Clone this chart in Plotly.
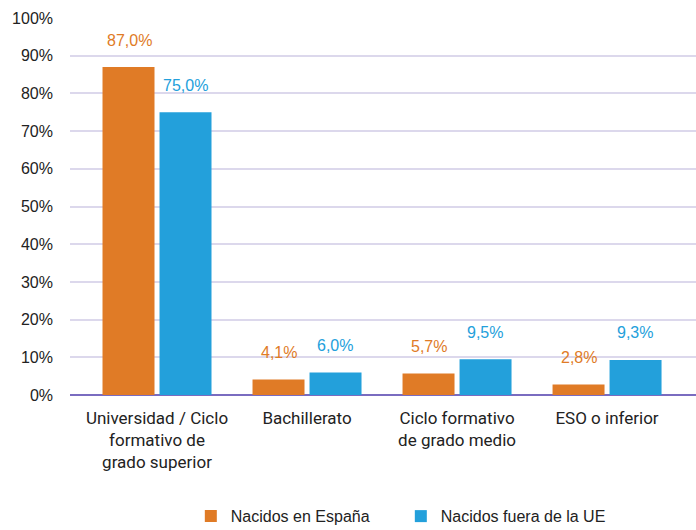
import plotly.graph_objects as go

categories = ["Universidad / Ciclo<br>formativo de<br>grado superior", "Bachillerato",
              "Ciclo formativo<br>de grado medio", "ESO o inferior"]
espana = [87.0, 4.1, 5.7, 2.8]
fuera_ue = [75.0, 6.0, 9.5, 9.3]
series_names = ["Nacidos en España", "Nacidos fuera de la UE"]
colors = ["#e07b26", "#23a0db"]
y_ticks = [0, 10, 20, 30, 40, 50, 60, 70, 80, 90, 100]

def fmt(v):
    return f"{v:.1f}".replace(".", ",") + "%"

fig = go.Figure()
for name, vals, col in zip(series_names, [espana, fuera_ue], colors):
    fig.add_trace(go.Bar(x=categories, y=vals, name=name, marker_color=col,
                         marker_line_width=0))

annotations = []
for vals, col, xs in [(espana, colors[0], -28), (fuera_ue, colors[1], 28)]:
    for c, v in zip(categories, vals):
        annotations.append(dict(x=c, y=v, text=fmt(v), showarrow=False,
                                xshift=xs, yshift=27,
                                font=dict(family="Liberation Sans", size=16, color=col)))

fig.update_layout(
    width=696, height=530,
    margin=dict(l=70, r=0, t=18, b=135),
    plot_bgcolor="white", paper_bgcolor="white",
    barmode="group", bargap=0.24, bargroupgap=0.088,
    font=dict(family="Liberation Sans", size=16, color="#222222"),
    annotations=annotations,
    showlegend=True,
    legend=dict(orientation="h", x=0.193, xanchor="left",
                yref="container", y=0.026, yanchor="middle",
                font=dict(family="Liberation Sans", size=16, color="#222222"),
                traceorder="normal", entrywidth=165, entrywidthmode="pixels"),
    xaxis=dict(range=[-0.58, 3.593], showgrid=False, showline=False, ticks="",
               automargin=False, ticklabelstandoff=11,
               tickfont=dict(family="Roboto", size=17, color="#222222")),
    yaxis=dict(range=[0, 100], tickvals=y_ticks, ticktext=[f"{t}%" for t in y_ticks],
               showgrid=True, gridcolor="#dcd8ec", gridwidth=2,
               zeroline=True, zerolinecolor="#7a6cc0", zerolinewidth=2,
               showline=False, ticks="", ticklabelstandoff=16, automargin=False,
               tickfont=dict(family="Liberation Sans", size=16, color="#222222")),
)

fig.write_html("out.html", config={"displayModeBar": False},
               post_script="document.body.style.margin='0';")
